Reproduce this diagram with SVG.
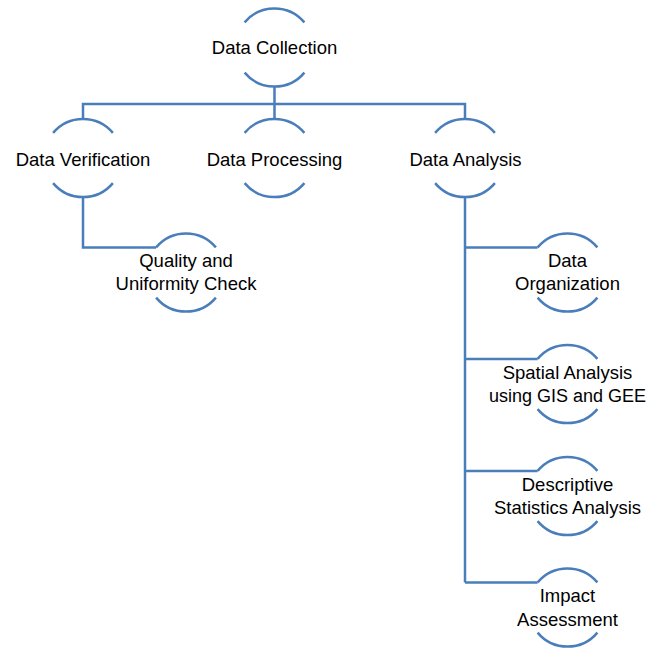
<svg xmlns="http://www.w3.org/2000/svg" width="647" height="648" viewBox="0 0 647 648">
<style>
.arc{fill:none;stroke:#4a7ebb;stroke-width:2.5}
.ln{fill:none;stroke:#4a7ebb;stroke-width:2.5}
text{font-family:"Liberation Sans",Arial,sans-serif;font-size:18.5px;fill:#000;text-anchor:middle}
</style>
<defs>
<g id="ring">
<path class="arc" d="M-29.9,-25.1 A39,39 0 0 1 29.9,-25.1"/>
<path class="arc" d="M-29.9,25.1 A39,39 0 0 0 29.9,25.1"/>
</g>
</defs>
<g id="connectors">
<path class="ln" d="M274.5,86.5 V104 M83,119 V104 H465 V119 M274.5,104 V119"/>
<path class="ln" d="M83,197 V247.5 H156.1"/>
<path class="ln" d="M465,197 V582.5 M465,247.5 H537.6 M465,359 H537.6 M465,471 H537.6 M465,582.5 H537.6"/>
</g>
<g id="n-collection"><use href="#ring" x="274.5" y="47.5"/><text x="274.5" y="54.3">Data Collection</text></g>
<g id="n-verification"><use href="#ring" x="83" y="158"/><text x="83" y="166">Data Verification</text></g>
<g id="n-processing"><use href="#ring" x="274.5" y="158"/><text x="274.5" y="166">Data Processing</text></g>
<g id="n-analysis"><use href="#ring" x="465" y="158"/><text x="465.5" y="166">Data Analysis</text></g>
<g id="n-quality"><use href="#ring" x="186" y="272.5"/><text x="186" y="266.7">Quality and</text><text x="186" y="290.3">Uniformity Check</text></g>
<g id="n-organization"><use href="#ring" x="567.5" y="272.5"/><text x="567.5" y="266.7">Data</text><text x="567.5" y="290.3">Organization</text></g>
<g id="n-spatial"><use href="#ring" x="567.5" y="384"/><text x="567.5" y="378.5">Spatial Analysis</text><text x="567.5" y="402" style="font-size:18px">using GIS and GEE</text></g>
<g id="n-descriptive"><use href="#ring" x="567.5" y="496"/><text x="567.5" y="490.7">Descriptive</text><text x="567.5" y="514.2">Statistics Analysis</text></g>
<g id="n-impact"><use href="#ring" x="567.5" y="607.5"/><text x="567.5" y="601.8">Impact</text><text x="567.5" y="625.5">Assessment</text></g>
</svg>
